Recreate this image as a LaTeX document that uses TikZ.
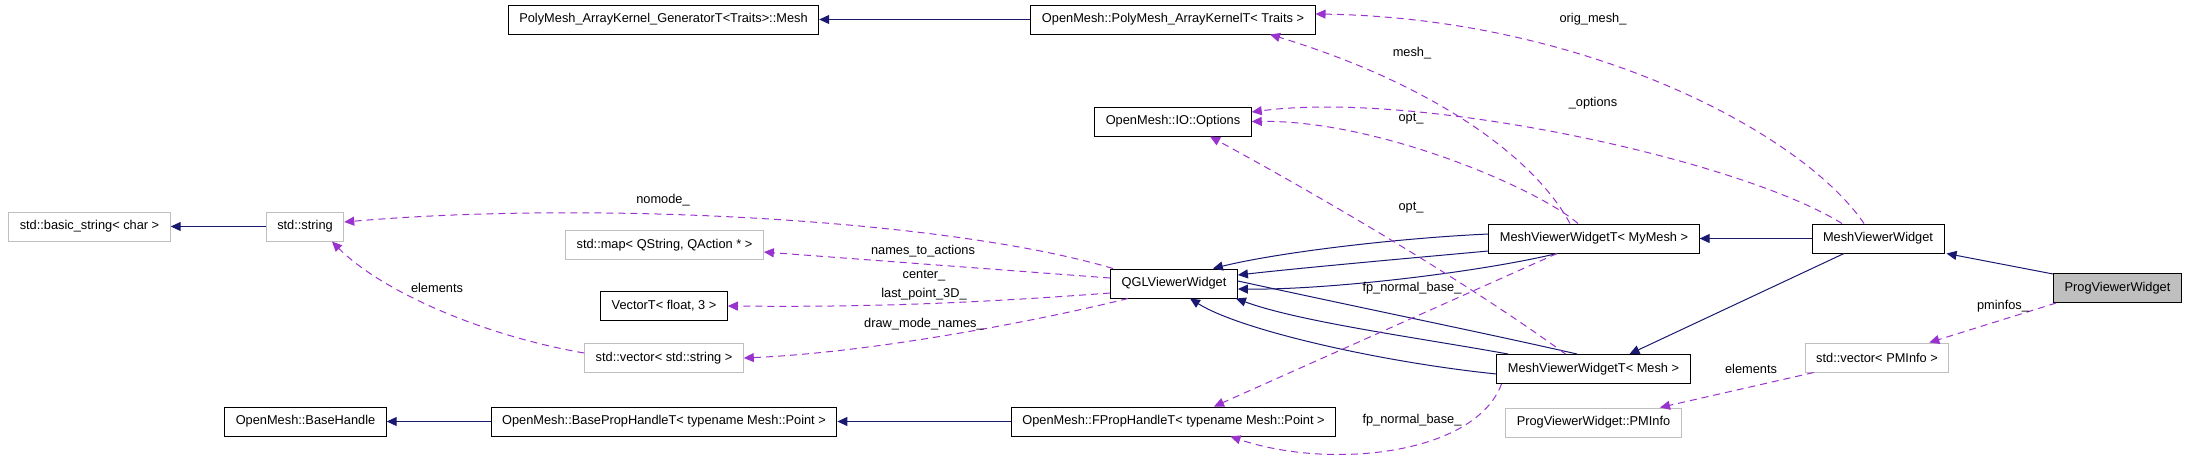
\documentclass[tikz,border=0pt]{standalone}
\usepackage{fontspec}
\setmainfont{Liberation Sans}
\usetikzlibrary{arrows.meta}
\definecolor{navy}{HTML}{191970}
\definecolor{orchid}{HTML}{9A32CD}
\definecolor{grayline}{HTML}{BFBFBF}
\begin{document}
\begin{tikzpicture}[x=1pt, y=-1pt,
			every node/.style={font=\fontsize{12.8}{15}\selectfont},
			box/.style={draw, line width=1pt, minimum height=29pt, inner xsep=11pt, inner ysep=0pt},
			graybox/.style={box, draw=grayline},
			selbox/.style={box, fill=grayline},
			inherit/.style={draw=navy, line width=1pt, -{Triangle[length=10pt, width=9pt, fill=navy]}},
			member/.style={draw=orchid, line width=1pt, dash pattern=on 7pt off 5pt, -{Triangle[length=10pt, width=9pt, fill=orchid]}},
			lbl/.style={inner sep=0pt}]

		\useasboundingbox (0,0) rectangle (2187,467);

		\node[box] (gen) at (663.5, 19.5) {PolyMesh\_ArrayKernel\_GeneratorT<Traits>::Mesh};
		\node[box] (kernel) at (1173, 19.5) {OpenMesh::PolyMesh\_ArrayKernelT< Traits >};
		\node[box] (options) at (1173, 121.5) {OpenMesh::IO::Options};
		\node[graybox] (basicstr) at (89.5, 226.5) {std::basic\_string< char >};
		\node[graybox] (string) at (305, 226.5) {std::string};
		\node[graybox] (map) at (664.5, 245) {std::map< QString, QAction * >};
		\node[box] (vec3) at (664, 306) {VectorT< float, 3 >};
		\node[box] (qgl) at (1174, 283.5) {QGLViewerWidget};
		\node[box] (mvwmy) at (1594, 238.5) {MeshViewerWidgetT< MyMesh >};
		\node[box] (mvw) at (1878, 238.5) {MeshViewerWidget};
		\node[selbox] (prog) at (2117.5, 288) {ProgViewerWidget};
		\node[graybox] (vecstr) at (664, 358) {std::vector< std::string >};
		\node[box] (mvwmesh) at (1593.5, 369) {MeshViewerWidgetT< Mesh >};
		\node[graybox] (vecpm) at (1877, 357.5) {std::vector< PMInfo >};
		\node[graybox] (pminfo) at (1593.5, 422.5) {ProgViewerWidget::PMInfo};
		\node[box] (basehandle) at (305.5, 421.5) {OpenMesh::BaseHandle};
		\node[box] (baseprop) at (664, 421.5) {OpenMesh::BasePropHandleT< typename Mesh::Point >};
		\node[box] (fprop) at (1173.5, 421.5) {OpenMesh::FPropHandleT< typename Mesh::Point >};

		% inheritance
		\draw[inherit] (kernel) -- (gen);
		\draw[inherit] (string) -- (basicstr);
		\draw[inherit] (baseprop) -- (basehandle);
		\draw[inherit] (fprop) -- (baseprop);
		\draw[inherit] (mvw) -- (mvwmy);
		\draw[inherit] ([xshift=-34pt]mvw.south) -- ([xshift=36pt]mvwmesh.north);
		\draw[inherit] ([yshift=-1pt]prog.north west) -- ([xshift=2pt]mvw.south east);
		\draw[inherit] ([yshift=4.5pt]mvwmy.west) .. controls (1400,238) and (1280,252) .. ([xshift=-25pt]qgl.north east);
		\draw[inherit] ([yshift=-12.5pt]mvwmy.west) .. controls (1400,259) and (1300,268) .. ([yshift=8.5pt]qgl.east);
		\draw[inherit] ([xshift=-37pt]mvwmy.south) .. controls (1480,272) and (1330,290) .. ([yshift=-5.5pt]qgl.east);
		\draw[navy, line width=1pt] ([yshift=2.5pt]qgl.east) .. controls (1390,314) and (1480,332) .. ([xshift=-16.5pt]mvwmesh.north);
		\draw[inherit] ([xshift=-85.5pt]mvwmesh.north) .. controls (1420,338) and (1300,322) .. ([xshift=-2pt]qgl.south east);
		\draw[inherit] ([yshift=-5pt]mvwmesh.west) .. controls (1380,362) and (1240,330) .. ([xshift=16pt]qgl.south);

		% members
		\draw[member] ([xshift=-14pt]mvw.north) .. controls (1800,130) and (1580,18) .. ([yshift=5.5pt]kernel.east);
		\node[lbl] (l-orig) at (1593, 19) {orig\_mesh\_};
		\draw[member] ([xshift=-36pt]mvw.north) .. controls (1740,160) and (1420,90) .. ([yshift=9.5pt]options.east);
		\node[lbl] (l-options) at (1593, 103) {\_options};
		\draw[member] ([xshift=-24pt]mvwmy.north) .. controls (1530,150) and (1420,80) .. ([xshift=97pt]kernel.south);
		\node[lbl] (l-mesh) at (1412, 53) {mesh\_};
		\draw[member] ([xshift=-16pt]mvwmy.north) .. controls (1540,190) and (1380,120) .. (options.east);
		\node[lbl] (l-opt1) at (1411, 119) {opt\_};
		\draw[member] ([xshift=-28pt]mvwmesh.north) .. controls (1450,270) and (1290,180) .. ([xshift=37pt]options.south);
		\node[lbl] (l-opt2) at (1411, 208) {opt\_};
		\draw[member] ([xshift=-37pt]mvwmy.south) -- ([xshift=40.5pt]fprop.north);
		\node[lbl] (l-fp1) at (1412, 288) {fp\_normal\_base\_};
		\draw[member] ([xshift=-92pt]mvwmesh.south) .. controls (1475,455) and (1330,470) .. ([xshift=57pt]fprop.south);
		\node[lbl] (l-fp2) at (1412, 420) {fp\_normal\_base\_};
		\draw[member] ([xshift=-61pt]qgl.north) .. controls (950,220) and (600,200) .. ([yshift=4.5pt]string.east);
		\node[lbl] (l-nomode) at (663, 200) {nomode\_};
		\draw[member] ([yshift=5.5pt]qgl.west) -- ([yshift=-7pt]map.east);
		\node[lbl] (l-names) at (923, 251) {names\_to\_actions};
		\draw[member] ([yshift=-9.5pt]qgl.west) .. controls (950,305) and (850,307) .. (vec3.east);
		\node[lbl, align=center, font=\fontsize{12.8}{19}\selectfont] (l-center) at (924, 285.5) {center\_\\last\_point\_3D\_};
		\draw[member] ([xshift=-46pt]qgl.south) .. controls (1050,318) and (880,352) .. (vecstr.east);
		\node[lbl] (l-draw) at (924, 324) {draw\_mode\_names\_};
		\draw[member] ([yshift=5pt]vecstr.west) .. controls (480,335) and (380,290) .. ([xshift=27pt]string.south);
		\node[lbl] (l-elem1) at (437, 288) {elements};
		\draw[member] ([xshift=3pt]prog.south west) -- ([xshift=-20pt]vecpm.north east);
		\node[lbl] (l-pminfos) at (2003, 306) {pminfos\_};
		\draw[member] ([xshift=9pt]vecpm.south west) -- ([xshift=66.5pt]pminfo.north);
		\node[lbl] (l-elem2) at (1751, 369) {elements};
	\end{tikzpicture}
\end{document}
